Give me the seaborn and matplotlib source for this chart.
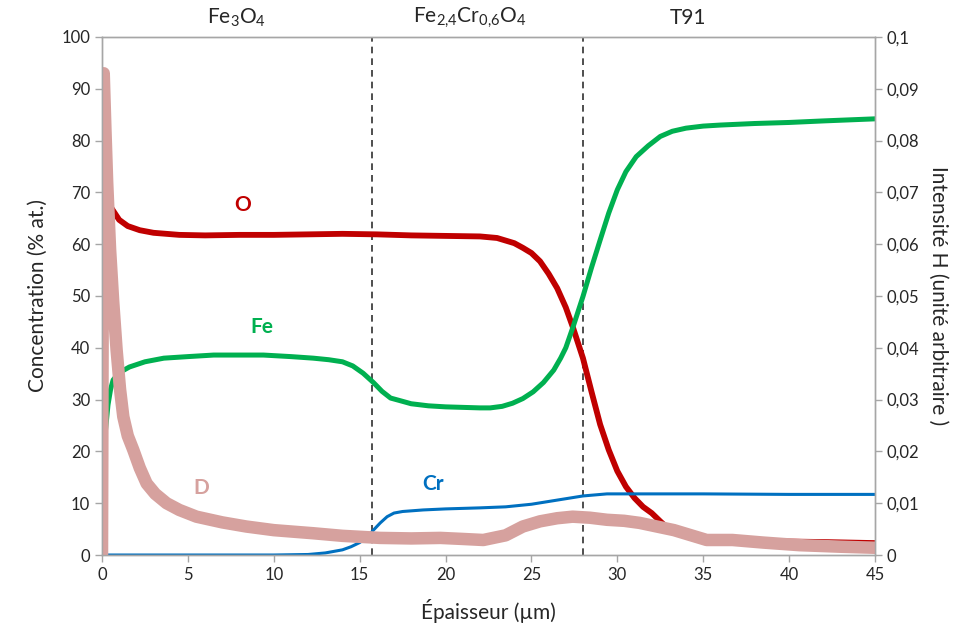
import matplotlib
matplotlib.use("Agg")
import matplotlib.pyplot as plt
import matplotlib.ticker as mticker
import seaborn as sns

# O concentration (% at.)
x_o = [0.3, 0.5, 1.0, 1.5, 2.2, 3, 4.5, 6, 8, 10, 12, 14, 16, 18, 20, 22, 23, 24,
       24.5, 25, 25.5, 26, 26.5, 27, 27.4, 28, 28.5, 29, 29.5, 30, 30.5, 31, 31.5,
       32, 32.5, 33, 34, 35, 37, 40, 42, 45]
o_vals = [69, 67.2, 64.7, 63.5, 62.7, 62.2, 61.8, 61.7, 61.8, 61.8, 61.9, 62, 61.9,
          61.7, 61.6, 61.5, 61.2, 60.2, 59.3, 58.3, 56.7, 54.3, 51.5, 47.8, 44.1,
          38, 31.5, 25.2, 20.3, 16.2, 13.2, 11, 9.3, 8.1, 6.5, 5.0, 3.6, 3.1, 2.8,
          2.6, 2.5, 2.3]

# Fe concentration (% at.)
x_fe = [0, 0.1, 0.2, 0.35, 0.5, 0.65, 1.0, 1.6, 2.5, 3.6, 5, 6.5, 8, 9.4, 11, 12.3,
        13.2, 14, 14.6, 15.2, 15.8, 16.3, 16.8, 17.35, 18, 19, 20, 21, 22, 22.6,
        23.3, 23.9, 24.5, 25.1, 25.7, 26.3, 26.7, 27.0, 27.43, 28, 28.5, 29, 29.5,
        30, 30.5, 31.1, 31.8, 32.5, 33.2, 34, 35, 36, 38, 40, 42, 45]
fe_vals = [12, 18, 24, 29, 32, 33.8, 35.2, 36.3, 37.3, 38, 38.3, 38.6, 38.6, 38.6,
           38.3, 38, 37.7, 37.3, 36.5, 35.1, 33.3, 31.6, 30.3, 29.8, 29.2, 28.8,
           28.6, 28.5, 28.4, 28.4, 28.7, 29.3, 30.2, 31.5, 33.3, 35.7, 38, 40, 44.1,
           49.9, 55.5, 60.8, 66, 70.5, 74, 76.9, 79, 80.8, 81.8, 82.4, 82.8, 83.0,
           83.3, 83.5, 83.8, 84.2]

# Cr concentration (% at.)
x_cr = [0, 5, 10, 12, 13, 14, 14.5, 15, 15.5, 15.8, 16.2, 16.6, 17, 17.5, 18.7, 20,
        22, 23.5, 25, 26.5, 28, 29.4, 30, 35, 40, 45]
cr_vals = [0, 0, 0, 0.1, 0.4, 1.0, 1.6, 2.4, 3.7, 4.8, 6.2, 7.4, 8.1, 8.4, 8.7, 8.9,
           9.1, 9.3, 9.8, 10.6, 11.4, 11.8, 11.8, 11.8, 11.7, 11.7]

# D intensity (arbitrary unit, right axis)
x_d = [0, 0.05, 0.1, 0.2, 0.3, 0.47, 0.65, 0.85, 1.05, 1.24, 1.5, 1.82, 2.2, 2.6,
       3.1, 3.76, 4.5, 5.5, 7, 8.4, 10, 12.3, 14, 16.2, 18, 19.7, 21, 22.2, 23.5,
       24.5, 25.5, 26.5, 27.4, 28.4, 29.4, 30.4, 31.3, 32.3, 33.3, 34.3, 35.2,
       36.7, 38.5, 40.6, 43, 45]
d_vals = [0, 0.06, 0.093, 0.082, 0.072, 0.059, 0.049, 0.0396, 0.032, 0.0267, 0.023,
          0.0203, 0.0168, 0.0138, 0.0118, 0.0100, 0.0087, 0.0074, 0.0063, 0.0055,
          0.0048, 0.0042, 0.0037, 0.0033, 0.0032, 0.0033, 0.0031, 0.0029, 0.0038,
          0.0055, 0.0065, 0.0071, 0.0074, 0.0072, 0.0068, 0.0066, 0.0062, 0.0055,
          0.0048, 0.0038, 0.0029, 0.0029, 0.0024, 0.0019, 0.0016, 0.0014]

# layer boundaries and names
boundaries = [15.7, 28.0]
layer_pos = [7.86, 21.4, 34.1]
layer_names = [r"Fe$_{3}$O$_{4}$", r"Fe$_{2{,}4}$Cr$_{0{,}6}$O$_{4}$", "T91"]

c_o, c_fe, c_cr, c_d = "#C00000", "#00B050", "#0070C0", "#D6A19E"
text_c = "#262626"
spine_c = "#A6A6A6"

sns.set_style("ticks")
plt.rcParams["font.family"] = ["Lato", "DejaVu Sans"]
plt.rcParams["mathtext.fontset"] = "custom"
plt.rcParams["mathtext.rm"] = "Lato"
plt.rcParams["mathtext.it"] = "Lato:italic"
plt.rcParams["mathtext.bf"] = "Lato:bold"

fig = plt.figure(figsize=(9.65, 6.4), dpi=100)
ax = fig.add_axes([0.1057, 0.1328, 0.801, 0.8094])
ax2 = ax.twinx()

sns.lineplot(x=x_o, y=o_vals, ax=ax, color=c_o, linewidth=4.2, legend=False)
sns.lineplot(x=x_fe, y=fe_vals, ax=ax, color=c_fe, linewidth=3.6, legend=False)
sns.lineplot(x=x_cr, y=cr_vals, ax=ax, color=c_cr, linewidth=2.2, legend=False)
sns.lineplot(x=x_d, y=d_vals, ax=ax2, color=c_d, linewidth=9, legend=False)

for b in boundaries:
    ax.axvline(b, color="#303030", linestyle=(0, (4, 3)), linewidth=1.2, zorder=1)

ax.set_xlim(0, 45)
ax.set_ylim(0, 100)
ax2.set_ylim(0, 0.1)
ax.xaxis.set_major_locator(mticker.MultipleLocator(5))
ax.yaxis.set_major_locator(mticker.MultipleLocator(10))
ax2.yaxis.set_major_locator(mticker.MultipleLocator(0.01))
ax2.yaxis.set_major_formatter(mticker.FuncFormatter(
    lambda v, p: f"{v:.2f}".rstrip("0").rstrip(".").replace(".", ",")))

for a in (ax, ax2):
    for s in a.spines.values():
        s.set_visible(True)
        s.set_color(spine_c)
        s.set_linewidth(1.0)
    a.tick_params(colors=spine_c, labelcolor=text_c, labelsize=12, length=5, width=1)

ax.set_xlabel("Épaisseur (µm)", fontsize=15, color=text_c, labelpad=12)
ax.set_ylabel("Concentration (% at.)", fontsize=15, color=text_c, labelpad=10)
ax2.set_ylabel("Intensité H (unité arbitraire )", fontsize=15, color=text_c,
               rotation=270, labelpad=24)
ax2.yaxis.set_label_coords(1.095, 0.5)

# series labels
ax.text(8.2, 67.6, "O", color=c_o, fontsize=15, fontweight="bold", ha="center", va="center")
ax.text(9.3, 44, "Fe", color=c_fe, fontsize=15, fontweight="bold", ha="center", va="center")
ax.text(5.8, 12.9, "D", color=c_d, fontsize=15, fontweight="bold", ha="center", va="center")
ax.text(19.3, 13.7, "Cr", color=c_cr, fontsize=15, fontweight="bold", ha="center", va="center")

trans = matplotlib.transforms.blended_transform_factory(ax.transData, ax.transAxes)
for xp, name in zip(layer_pos, layer_names):
    ax.text(xp, 1.037, name, transform=trans, ha="center", va="center",
            fontsize=15, color=text_c)

fig.savefig("out.png", dpi=100)
